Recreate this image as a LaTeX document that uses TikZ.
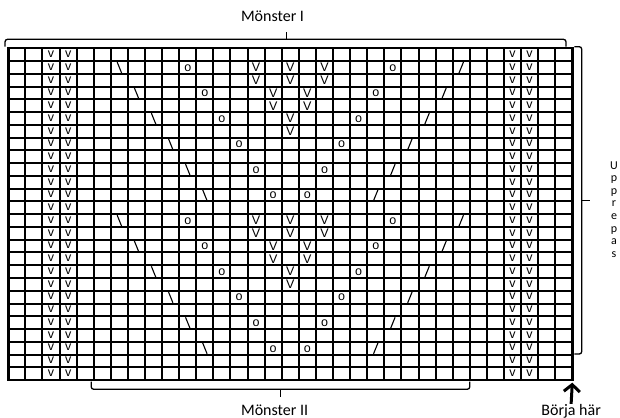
\documentclass[tikz,border=0pt]{standalone}
\usepackage{fontspec}
\setmainfont{Carlito}
\newfontfamily\symfont{Liberation Sans}
\usepackage{tikz}
\usetikzlibrary{
  positioning,
  arrows.meta
}

\begin{document}
\begin{tikzpicture}[x=17.09pt,y=-12.76pt,
  sym/.style={inner sep=0pt,anchor=base,font=\symfont\fontsize{12.5}{12.5}\selectfont},
  lbl/.style={inner sep=0pt,font=\fontsize{16}{19}\selectfont},
  brace/.style={line width=1.3pt,rounded corners=2.5pt},
  slash/.style={line width=1.1pt},
  >={Straight Barb[length=7pt,width=16pt]}]
  \useasboundingbox (-0.486,-3.785) rectangle (35.79,28.97);

  % ---------- rutnät ----------
  \foreach \c in {0,...,33}
    \draw[line width=2pt] (\c,0) -- (\c,26);
  \foreach \r in {0,...,26}
    \draw[line width=2pt] (0,\r) -- (33,\r);
  \draw[line width=2.4pt] (0,0) rectangle (33,26);

  % v-kolumner på båda sidor
  \foreach \r in {1,...,26}
    \foreach \c in {3,4,30,31}
      \node[sym] (v\c-\r) at (\c-0.5,\r-0.28) {v};

  % mönstret, två gånger (rad 2--12 och 14--24)
  \foreach \k in {0,12} {
    \foreach \c/\r in {7/2,8/4,9/6,10/8,11/10,12/12}
      \draw[slash] (\c-0.63,\r+\k-0.92) -- (\c-0.37,\r+\k-0.06);
    \foreach \c/\r in {27/2,26/4,25/6,24/8,23/10,22/12}
      \draw[slash] (\c-0.63,\r+\k-0.06) -- (\c-0.37,\r+\k-0.92);
    \foreach \c/\r in {11/2,23/2,12/4,22/4,13/6,21/6,
                       14/8,20/8,15/10,19/10,16/12,18/12}
      \node[sym] (o\c-\r-\k) at (\c-0.5,\r+\k-0.2) {o};
    \foreach \c/\r in {15/2,17/2,19/2,15/3,17/3,19/3,
                       16/4,18/4,16/5,18/5,17/6,17/7}
      \node[sym] (V\c-\r-\k) at (\c-0.5,\r+\k-0.16) {V};
  }

  % klamrar
  \draw[brace] (-0.19,-0.125) -- (-0.19,-0.705) -- (32.63,-0.705) -- (32.63,-0.125);
  \draw[line width=1.3pt] (16.28,-0.705) -- (16.28,-1.28);
  \draw[brace] (33.12,-0.125) -- (33.55,-0.125) -- (33.55,23.96) -- (33.12,23.96);
  \draw[line width=1.3pt] (33.55,11.93) -- (34.04,11.93);
  \draw[brace] (4.85,26.13) -- (4.85,26.72) -- (27,26.72) -- (27,26.13);
  \draw[line width=1.3pt] (15.92,26.72) -- (15.92,27.3);

  % texter
  \node[lbl] (monsterI) at (15.46,-2.48) {Mönster I};
  \node[lbl] (monsterII) at (15.58,28.35) {Mönster II};
  \node[inner sep=0pt,align=center,font=\fontsize{12}{12.6}\selectfont]
    (upprepas) at (35.44,12.63) {U\\p\\p\\r\\e\\p\\a\\s};
  \node[lbl] (borja) at (32.93,28.42) {Börja här};

  % startpil
  \coordinate (start) at (33,26.2);
  \draw[->,line width=3pt] (borja.north) -- (start);
\end{tikzpicture}
\end{document}
